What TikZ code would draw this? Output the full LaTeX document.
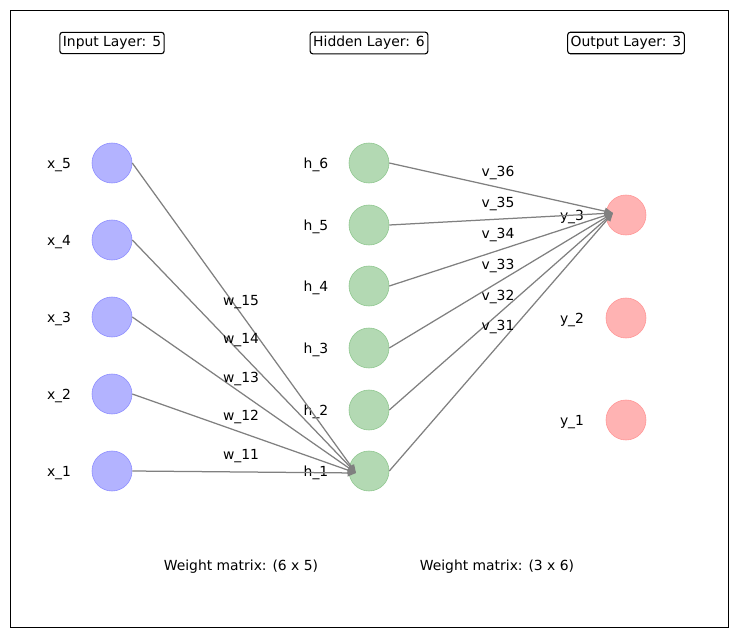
\documentclass[tikz,border=0pt]{standalone}
\usepackage{fontspec}
\setmainfont{DejaVu Sans}
\usepackage{tikz}
\usetikzlibrary{arrows.meta}
\definecolor{inblue}{HTML}{B3B3FF}
\definecolor{inedge}{HTML}{8A8AFF}
\definecolor{hidgreen}{HTML}{B3D9B3}
\definecolor{hidedge}{HTML}{8CC68C}
\definecolor{outred}{HTML}{FFB3B3}
\definecolor{outedge}{HTML}{FF9494}
\newcommand{\neuron}[5]{\node[shape=circle,draw=#5,fill=#4,inner sep=0pt,minimum size=28.8pt] (#1) at ( #2 , #3 ) {};}
\newcommand{\unitlabel}[4]{\node[inner sep=0pt,yshift=-1.2pt] (#1) at ( #2 , #3 ) {#4};}
\newcommand{\layerbox}[4]{\node[draw=black,rounded corners=2pt,inner xsep=2.2pt,inner ysep=3pt,line width=0.8pt] (#1) at ( #2 , #3 ) {#4};}
\tikzset{weight/.style={draw=gray,line width=0.9pt,-{Triangle[length=6pt,width=5pt]}}}

\begin{document}
\begin{tikzpicture}[x=0.72pt,y=-0.72pt,font=\fontsize{10pt}{12pt}\selectfont]
\useasboundingbox (0,0) rectangle (738,636);
\draw[line width=0.7pt] (10,10) rectangle (728,627);
% layer titles
\layerbox{inbox}{112}{43}{Input Layer: 5}
\layerbox{hidbox}{369}{43}{Hidden Layer: 6}
\layerbox{outbox}{626}{43}{Output Layer: 3}
% input layer
\neuron{x1}{112}{471}{inblue}{inedge}
\neuron{x2}{112}{394}{inblue}{inedge}
\neuron{x3}{112}{317}{inblue}{inedge}
\neuron{x4}{112}{240}{inblue}{inedge}
\neuron{x5}{112}{163}{inblue}{inedge}
% hidden layer
\neuron{h1}{369}{471}{hidgreen}{hidedge}
\neuron{h2}{369}{410}{hidgreen}{hidedge}
\neuron{h3}{369}{348}{hidgreen}{hidedge}
\neuron{h4}{369}{286}{hidgreen}{hidedge}
\neuron{h5}{369}{225}{hidgreen}{hidedge}
\neuron{h6}{369}{163}{hidgreen}{hidedge}
% output layer
\neuron{y1}{626}{420}{outred}{outedge}
\neuron{y2}{626}{318}{outred}{outedge}
\neuron{y3}{626}{215}{outred}{outedge}
% unit labels
\unitlabel{lx1}{59}{471}{x\_1}
\unitlabel{lx2}{59}{394}{x\_2}
\unitlabel{lx3}{59}{317}{x\_3}
\unitlabel{lx4}{59}{240}{x\_4}
\unitlabel{lx5}{59}{163}{x\_5}
\unitlabel{lh1}{316}{471}{h\_1}
\unitlabel{lh2}{316}{410}{h\_2}
\unitlabel{lh3}{316}{348}{h\_3}
\unitlabel{lh4}{316}{286}{h\_4}
\unitlabel{lh5}{316}{225}{h\_5}
\unitlabel{lh6}{316}{163}{h\_6}
\unitlabel{ly1}{572}{420}{y\_1}
\unitlabel{ly2}{572}{318}{y\_2}
\unitlabel{ly3}{572}{215}{y\_3}
% arrow targets
\coordinate (h1tip) at (356,473);
\coordinate (y3tip) at (613,213);
% input to hidden
\draw[weight] (x1.east) -- (h1tip);
\draw[weight] (x2.east) -- (h1tip);
\draw[weight] (x3.east) -- (h1tip);
\draw[weight] (x4.east) -- (h1tip);
\draw[weight] (x5.east) -- (h1tip);
% hidden to output
\draw[weight] (h1.east) -- (y3tip);
\draw[weight] (h2.east) -- (y3tip);
\draw[weight] (h3.east) -- (y3tip);
\draw[weight] (h4.east) -- (y3tip);
\draw[weight] (h5.east) -- (y3tip);
\draw[weight] (h6.east) -- (y3tip);
% weight labels
\unitlabel{w11}{241}{454}{w\_11}
\unitlabel{w12}{241}{415}{w\_12}
\unitlabel{w13}{241}{377}{w\_13}
\unitlabel{w14}{241}{338}{w\_14}
\unitlabel{w15}{241}{300}{w\_15}
\unitlabel{v31}{498}{325}{v\_31}
\unitlabel{v32}{498}{295}{v\_32}
\unitlabel{v33}{498}{264}{v\_33}
\unitlabel{v34}{498}{233}{v\_34}
\unitlabel{v35}{498}{202}{v\_35}
\unitlabel{v36}{498}{171}{v\_36}
% matrix sizes
\unitlabel{wmat}{241}{565}{Weight matrix: (6 x 5)}
\unitlabel{vmat}{497}{565}{Weight matrix: (3 x 6)}
\end{tikzpicture}
\end{document}
